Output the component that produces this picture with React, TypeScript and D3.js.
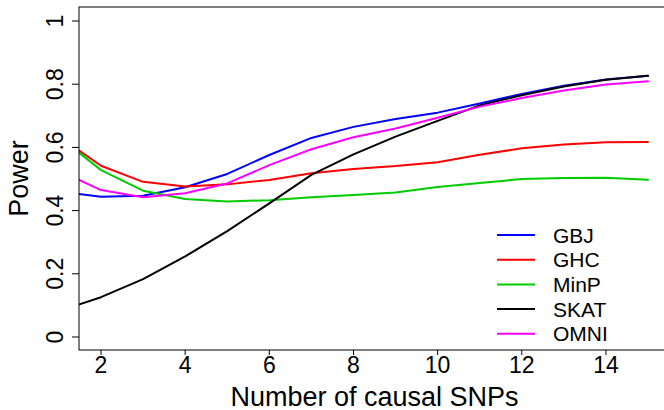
import React, { useEffect, useRef } from "react";
import * as d3 from "d3";

// number of causal SNPs
const snps = [1, 2, 3, 4, 5, 6, 7, 8, 9, 10, 11, 12, 13, 14, 15];

const gbj = [0.461, 0.444, 0.447, 0.474, 0.516, 0.576, 0.630, 0.665, 0.690, 0.710, 0.739, 0.769, 0.795, 0.815, 0.827];
const ghc = [0.634, 0.542, 0.491, 0.476, 0.483, 0.497, 0.518, 0.532, 0.541, 0.553, 0.577, 0.597, 0.609, 0.616, 0.617];
const minp = [0.634, 0.528, 0.463, 0.437, 0.429, 0.433, 0.442, 0.449, 0.457, 0.475, 0.487, 0.500, 0.503, 0.504, 0.498];
const skat = [0.082, 0.126, 0.183, 0.255, 0.335, 0.423, 0.513, 0.578, 0.634, 0.684, 0.733, 0.765, 0.793, 0.814, 0.827];
const omni = [0.527, 0.465, 0.442, 0.455, 0.486, 0.544, 0.594, 0.632, 0.660, 0.694, 0.729, 0.756, 0.780, 0.799, 0.809];

const seriesNames = ["GBJ", "GHC", "MinP", "SKAT", "OMNI"];
const seriesColors = ["#0000ff", "#ff0000", "#00cd00", "#000000", "#ff00ff"];

const xTicks = [2, 4, 6, 8, 10, 12, 14];
const yTicks = [0, 0.2, 0.4, 0.6, 0.8, 1];

const FONT = "'Liberation Sans', Arial, Helvetica, sans-serif";

export default function App() {
  const ref = useRef<SVGSVGElement | null>(null);

  useEffect(() => {
    const svg = d3.select(ref.current);
    svg.selectAll("*").remove();

    const x = d3.scaleLinear().domain([2, 15]).range([101, 648]);
    const y = d3.scaleLinear().domain([0, 1]).range([337, 21]);

    // plot region (R style 4% padding)
    const left = 79, right = 670, top = 7, bottom = 350;

    svg.append("defs").append("clipPath").attr("id", "plotclip")
      .append("rect")
      .attr("x", left).attr("y", top)
      .attr("width", right - left).attr("height", bottom - top);

    const allSeries = [gbj, ghc, minp, skat, omni];
    const line = d3.line<number>()
      .x((d, i) => x(snps[i]))
      .y(d => y(d));

    const g = svg.append("g").attr("clip-path", "url(#plotclip)");
    allSeries.forEach((vals, k) => {
      g.append("path")
        .datum(vals)
        .attr("d", line)
        .attr("fill", "none")
        .attr("stroke", seriesColors[k])
        .attr("stroke-width", 2)
        .attr("stroke-linejoin", "round")
        .attr("stroke-linecap", "round");
    });

    // box
    svg.append("rect")
      .attr("x", left).attr("y", top)
      .attr("width", right - left).attr("height", bottom - top)
      .attr("fill", "none")
      .attr("stroke", "#000")
      .attr("stroke-width", 1);

    // x axis ticks
    xTicks.forEach(t => {
      svg.append("line")
        .attr("x1", x(t)).attr("x2", x(t))
        .attr("y1", bottom).attr("y2", bottom + 5)
        .attr("stroke", "#000");
      svg.append("text")
        .attr("x", x(t)).attr("y", 373)
        .attr("text-anchor", "middle")
        .style("font-family", FONT)
        .style("font-size", "23px")
        .text(t);
    });

    // y axis ticks (rotated labels)
    yTicks.forEach(t => {
      svg.append("line")
        .attr("x1", left - 7).attr("x2", left)
        .attr("y1", y(t)).attr("y2", y(t))
        .attr("stroke", "#000");
      svg.append("text")
        .attr("transform", "translate(63," + y(t) + ") rotate(-90)")
        .attr("text-anchor", "middle")
        .style("font-family", FONT)
        .style("font-size", "23px")
        .text(String(t));
    });

    // axis titles
    svg.append("text")
      .attr("x", (left + right) / 2).attr("y", 406)
      .attr("text-anchor", "middle")
      .style("font-family", FONT)
      .style("font-size", "27px")
      .text("Number of causal SNPs");

    svg.append("text")
      .attr("transform", "translate(28," + (top + bottom) / 2 + ") rotate(-90)")
      .attr("text-anchor", "middle")
      .style("font-family", FONT)
      .style("font-size", "27px")
      .text("Power");

    // legend
    seriesNames.forEach((name, k) => {
      const ly = 235 + k * 24.7;
      svg.append("line")
        .attr("x1", 497).attr("x2", 535)
        .attr("y1", ly).attr("y2", ly)
        .attr("stroke", seriesColors[k])
        .attr("stroke-width", 2);
      svg.append("text")
        .attr("x", 553).attr("y", ly)
        .attr("dy", "0.36em")
        .style("font-family", FONT)
        .style("font-size", "21px")
        .text(name);
    });
  }, []);

  return (
    <svg
      ref={ref}
      width={664}
      height={410}
      style={{ position: "absolute", left: 0, top: 0, background: "#fff" }}
    />
  );
}
